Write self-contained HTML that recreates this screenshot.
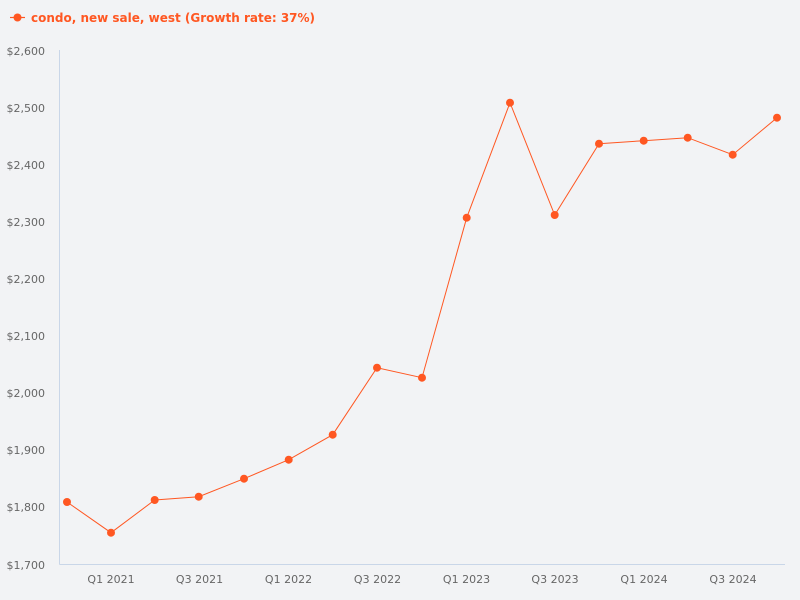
<!DOCTYPE html>
<html><head><meta charset="utf-8"><style>
html,body{margin:0;padding:0;background:#f2f3f5;}
svg{display:block;font-family:"DejaVu Sans","Liberation Sans",sans-serif;}
</style></head><body>
<svg width="800" height="600" viewBox="0 0 800 600" xmlns="http://www.w3.org/2000/svg">
<rect width="800" height="600" fill="#f2f3f5"/>
<!-- legend -->
<line x1="10" y1="17.5" x2="25" y2="17.5" stroke="#ff5722" stroke-width="1.2"/>
<circle cx="17.5" cy="17.5" r="4" fill="#ff5722"/>
<text x="31" y="22" font-size="12" font-weight="bold" fill="#ff5722">condo, new sale, west (Growth rate: 37%)</text>
<!-- axes -->
<line x1="59.5" y1="50" x2="59.5" y2="564.5" stroke="#c9d6e8" stroke-width="1"/>
<line x1="59.5" y1="564.5" x2="785" y2="564.5" stroke="#c9d6e8" stroke-width="1"/>
<!-- y labels -->
<g font-size="11" fill="#666" text-anchor="end">
<text x="45" y="55">$2,600</text>
<text x="45" y="112">$2,500</text>
<text x="45" y="169">$2,400</text>
<text x="45" y="226">$2,300</text>
<text x="45" y="283">$2,200</text>
<text x="45" y="340">$2,100</text>
<text x="45" y="397">$2,000</text>
<text x="45" y="454">$1,900</text>
<text x="45" y="511">$1,800</text>
<text x="45" y="569">$1,700</text>
</g>
<!-- x labels -->
<g font-size="11" fill="#666" text-anchor="middle">
<text x="111" y="583">Q1 2021</text>
<text x="199.5" y="583">Q3 2021</text>
<text x="288.5" y="583">Q1 2022</text>
<text x="377.5" y="583">Q3 2022</text>
<text x="466.5" y="583">Q1 2023</text>
<text x="555" y="583">Q3 2023</text>
<text x="644" y="583">Q1 2024</text>
<text x="733" y="583">Q3 2024</text>
</g>
<!-- series -->
<polyline fill="none" stroke="#ff5722" stroke-width="1" points="67,502 111,532.7 154.7,500 198.7,496.7 244,478.7 288.7,459.7 332.7,434.7 377,367.7 422,377.7 466.7,217.7 510,102.7 554.7,215 599,143.7 643.7,140.7 687.7,137.7 732.7,154.7 777,117.7"/>
<g fill="#ff5722">
<circle cx="67" cy="502" r="4"/>
<circle cx="111" cy="532.7" r="4"/>
<circle cx="154.7" cy="500" r="4"/>
<circle cx="198.7" cy="496.7" r="4"/>
<circle cx="244" cy="478.7" r="4"/>
<circle cx="288.7" cy="459.7" r="4"/>
<circle cx="332.7" cy="434.7" r="4"/>
<circle cx="377" cy="367.7" r="4"/>
<circle cx="422" cy="377.7" r="4"/>
<circle cx="466.7" cy="217.7" r="4"/>
<circle cx="510" cy="102.7" r="4"/>
<circle cx="554.7" cy="215" r="4"/>
<circle cx="599" cy="143.7" r="4"/>
<circle cx="643.7" cy="140.7" r="4"/>
<circle cx="687.7" cy="137.7" r="4"/>
<circle cx="732.7" cy="154.7" r="4"/>
<circle cx="777" cy="117.7" r="4"/>
</g>
</svg>
</body></html>
